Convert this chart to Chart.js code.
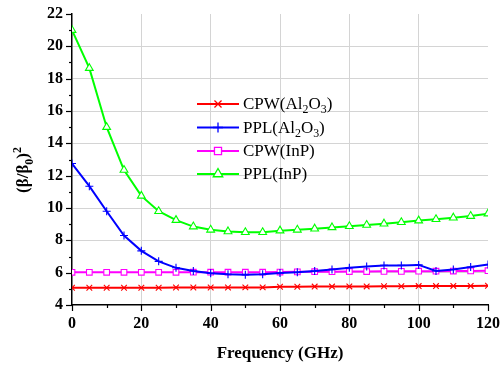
<!DOCTYPE html>
<html>
<head>
<meta charset="utf-8">
<script src="https://cdn.jsdelivr.net/npm/chart.js@4/dist/chart.umd.min.js"></script>
<style>
  html, body { margin: 0; padding: 0; background: #fff; }
  #wrap { width: 502px; height: 368px; }
</style>
</head>
<body>
<div id="wrap"><canvas id="chart" width="502" height="368"></canvas></div>
<script>
// data
const freq = [0, 5, 10, 15, 20, 25, 30, 35, 40, 45, 50, 55, 60, 65, 70, 75, 80, 85, 90, 95, 100, 105, 110, 115, 120];
const cpwAl2O3 = [5.07, 5.07, 5.07, 5.07, 5.07, 5.07, 5.08, 5.08, 5.08, 5.08, 5.09, 5.09, 5.13, 5.13, 5.14, 5.14, 5.15, 5.15, 5.16, 5.16, 5.17, 5.17, 5.18, 5.18, 5.19];
const pplAl2O3 = [12.75, 11.35, 9.8, 8.3, 7.35, 6.7, 6.3, 6.1, 5.97, 5.9, 5.87, 5.9, 5.98, 6.03, 6.1, 6.2, 6.3, 6.38, 6.45, 6.45, 6.48, 6.1, 6.2, 6.35, 6.5];
const cpwInP = [6.02, 6.02, 6.02, 6.02, 6.02, 6.02, 6.02, 6.03, 6.03, 6.03, 6.03, 6.03, 6.04, 6.05, 6.06, 6.06, 6.07, 6.07, 6.08, 6.08, 6.09, 6.09, 6.1, 6.11, 6.12];
const pplInP = [21.0, 18.65, 15.0, 12.35, 10.75, 9.8, 9.25, 8.85, 8.65, 8.55, 8.5, 8.5, 8.6, 8.65, 8.72, 8.8, 8.87, 8.95, 9.03, 9.12, 9.22, 9.3, 9.4, 9.5, 9.65];

const yTicks = [4, 6, 8, 10, 12, 14, 16, 18, 20, 22];
const xTicks = [0, 20, 40, 60, 80, 100, 120];

// legend names, split into [text, 'sub'] pieces
const names = [
  [['CPW(Al'], ['2', 'sub'], ['O'], ['3', 'sub'], [')']],
  [['PPL(Al'], ['2', 'sub'], ['O'], ['3', 'sub'], [')']],
  [['CPW(InP)']],
  [['PPL(InP)']]
];

const serif = '"Liberation Serif", "Times New Roman", serif';

function pts(ys) {
  return freq.map((f, i) => ({ x: f, y: ys[i] }));
}

function series(data, color, style, radius) {
  return {
    data: pts(data),
    borderColor: color,
    backgroundColor: '#fff',
    borderWidth: 2,
    pointStyle: style,
    pointRadius: radius,
    pointBorderColor: color,
    pointBackgroundColor: '#fff',
    pointBorderWidth: 1.1,
    tension: 0
  };
}

// draws text pieces with subscripts / superscripts
function drawRich(ctx, parts, x, y, size, weight) {
  let cx = x;
  parts.forEach(p => {
    const small = p[1] === 'sub' || p[1] === 'sup';
    const fs = small ? size * 0.7 : size;
    ctx.font = weight + ' ' + fs + 'px ' + serif;
    const dy = p[1] === 'sub' ? size * 0.3 : (p[1] === 'sup' ? -size * 0.4 : 0);
    ctx.fillText(p[0], cx, y + dy);
    cx += ctx.measureText(p[0]).width;
  });
  return cx - x;
}

function richWidth(ctx, parts, size, weight) {
  let w = 0;
  parts.forEach(p => {
    const small = p[1] === 'sub' || p[1] === 'sup';
    ctx.font = weight + ' ' + (small ? size * 0.7 : size) + 'px ' + serif;
    w += ctx.measureText(p[0]).width;
  });
  return w;
}

// minor/major tick marks, y title and the legend
const extras = {
  id: 'extras',
  afterDraw(chart) {
    const ctx = chart.ctx;
    const xs = chart.scales.x, ys = chart.scales.y;
    const area = chart.chartArea;
    ctx.save();
    ctx.strokeStyle = '#000';
    ctx.lineWidth = 1.2;
    for (let v = 4; v <= 22; v += 1) {
      const py = Math.round(ys.getPixelForValue(v)) + 0.5;
      const len = v % 2 === 0 ? 6 : 3;
      ctx.beginPath();
      ctx.moveTo(area.left, py);
      ctx.lineTo(area.left - len, py);
      ctx.stroke();
    }
    for (let v = 0; v <= 120; v += 10) {
      const px = Math.round(xs.getPixelForValue(v)) + 0.5;
      const len = v % 20 === 0 ? 6 : 3;
      ctx.beginPath();
      ctx.moveTo(px, area.bottom);
      ctx.lineTo(px, area.bottom + len);
      ctx.stroke();
    }

    // y title (β/β0)^2
    const title = [['(β/β'], ['0', 'sub'], [')'], ['2', 'sup']];
    ctx.fillStyle = '#000';
    ctx.textBaseline = 'alphabetic';
    ctx.textAlign = 'left';
    const tw = richWidth(ctx, title, 17, 'bold');
    ctx.translate(28, 170);
    ctx.rotate(-Math.PI / 2);
    drawRich(ctx, title, -tw / 2, 0, 17, 'bold');
    ctx.setTransform(1, 0, 0, 1, 0, 0);

    // legend
    const lx0 = 197, lx1 = 239, tx = 243;
    const rowY = [104, 127.5, 151, 174];
    chart.data.datasets.forEach((ds, i) => {
      const y = rowY[i];
      ctx.strokeStyle = ds.borderColor;
      ctx.lineWidth = 2;
      ctx.beginPath();
      ctx.moveTo(lx0, y);
      ctx.lineTo(lx1, y);
      ctx.stroke();
      ctx.fillStyle = '#fff';
      ctx.lineWidth = 1.3;
      Chart.helpers.drawPoint(ctx, {
        pointStyle: ds.pointStyle,
        radius: ds.pointRadius + 1,
        borderWidth: 1.3,
        rotation: 0
      }, (lx0 + lx1) / 2, y);
      ctx.fillStyle = '#000';
      ctx.textBaseline = 'middle';
      drawRich(ctx, names[i], tx, y + 1, 17, 'normal');
    });
    ctx.restore();
  }
};

const ctx = document.getElementById('chart').getContext('2d');
const chart = new Chart(ctx, {
  type: 'line',
  data: {
    datasets: [
      series(cpwAl2O3, '#ff0000', 'crossRot', 4),
      series(pplAl2O3, '#0000ff', 'cross', 4),
      series(cpwInP, '#ff00ff', 'rect', 4),
      series(pplInP, '#00ff00', 'triangle', 4.5)
    ]
  },
  options: {
    responsive: false,
    animation: false,
    layout: { padding: { left: 0, right: 14, top: 14, bottom: 0 } },
    plugins: {
      legend: { display: false },
      tooltip: { enabled: false }
    },
    scales: {
      x: {
        type: 'linear',
        min: 0,
        max: 120,
        afterBuildTicks(scale) { scale.ticks = xTicks.map(v => ({ value: v })); },
        afterFit(scale) { scale.height = 63; scale.paddingLeft = 0; scale.paddingRight = 0; },
        ticks: {
          padding: 9,
          color: '#000',
          font: { family: serif, size: 16, weight: 'bold' }
        },
        grid: {
          drawTicks: false,
          color: c => (c.tick && (c.tick.value === 0 || c.tick.value === 120)) ? 'rgba(0,0,0,0)' : '#d4d4d4',
          lineWidth: 1
        },
        border: { color: '#000', width: 1.5 },
        title: {
          display: true,
          text: 'Frequency (GHz)',
          color: '#000',
          font: { family: serif, size: 17, weight: 'bold' },
          padding: { top: 12 }
        }
      },
      y: {
        min: 4,
        max: 22,
        afterBuildTicks(scale) { scale.ticks = yTicks.map(v => ({ value: v })); },
        afterFit(scale) { scale.width = 72; scale.paddingTop = 0; scale.paddingBottom = 0; },
        ticks: {
          padding: 9,
          color: '#000',
          font: { family: serif, size: 16, weight: 'bold' }
        },
        grid: {
          drawTicks: false,
          color: c => (c.tick && (c.tick.value === 4 || c.tick.value === 22)) ? 'rgba(0,0,0,0)' : '#d4d4d4',
          lineWidth: 1
        },
        border: { color: '#000', width: 1.5 }
      }
    }
  },
  plugins: [extras]
});
</script>
</body>
</html>
